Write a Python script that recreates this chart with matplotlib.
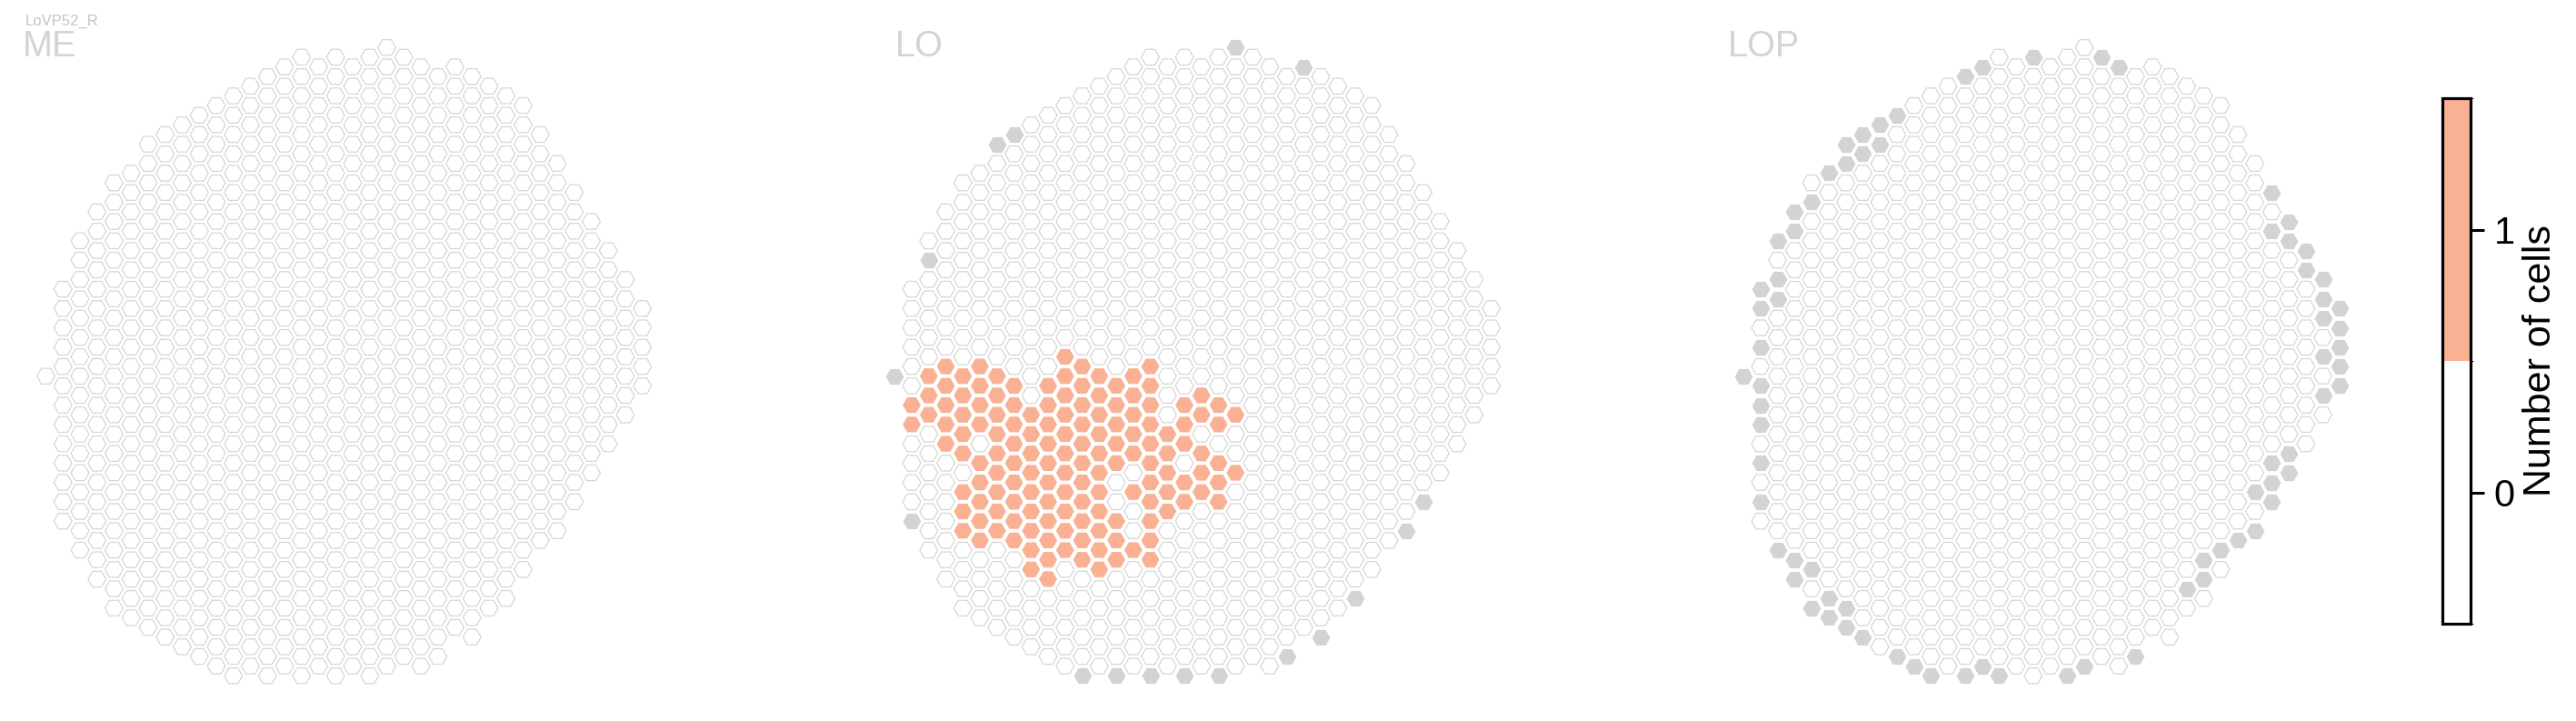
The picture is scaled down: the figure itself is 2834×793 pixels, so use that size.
import matplotlib
matplotlib.use('Agg')
import matplotlib.pyplot as plt
from matplotlib.colors import ListedColormap, BoundaryNorm
from matplotlib.cm import ScalarMappable

plt.rcParams['font.family'] = ['Liberation Sans', 'DejaVu Sans']

## hex grid: first and last half-row of every column ##

col_top = [34, 25, 20, 17, 14, 13, 10, 9, 8, 7, 6, 5, 4, 3, 2, 1, 2, 1, 2, 1,
           0, 1, 2, 3, 2, 3, 4, 5, 6, 9, 12, 15, 18, 21, 24, 27]
col_bottom = [34, 49, 52, 55, 58, 59, 60, 61, 62, 63, 64, 65, 64, 65, 64, 65, 64, 65, 64, 65,
              64, 63, 64, 63, 60, 61, 58, 57, 54, 51, 50, 47, 44, 41, 38, 35]

regions = ['ME', 'LO', 'LOP']
cell_type = 'LoVP52_R'

## columns with 1 cell (LO only) ##
lo_orange = {
    1: [37, 39],
    2: [34, 36, 38],
    3: [33, 35, 37, 39, 41],
    4: [34, 36, 38, 40, 42, 46, 48, 50],
    5: [33, 35, 37, 39, 43, 45, 47, 49, 51],
    6: [34, 36, 38, 40, 42, 44, 46, 48, 50],
    7: [35, 37, 39, 41, 43, 45, 47, 49, 51],
    8: [38, 40, 42, 44, 46, 48, 50, 52, 54],
    9: [35, 37, 39, 41, 43, 45, 47, 49, 51, 53, 55],
    10: [32, 34, 36, 38, 40, 42, 44, 46, 48, 50, 52],
    11: [33, 35, 37, 39, 41, 43, 45, 47, 49, 51, 53],
    12: [34, 36, 38, 40, 42, 44, 46, 48, 50, 52, 54],
    13: [35, 37, 39, 41, 43, 49, 51, 53],
    14: [34, 36, 38, 40, 42, 46, 52],
    15: [33, 35, 37, 39, 41, 43, 45, 47, 49, 51, 53],
    16: [40, 42, 44, 46, 48],
    17: [37, 39, 41, 45, 47],
    18: [36, 38, 42, 44, 46],
    19: [37, 39, 43, 45, 47],
    20: [38, 44],
}

## columns shown in grey ##
me_grey = {}
lo_grey = {0: [34], 1: [49], 2: [22], 6: [10], 7: [9], 11: [65], 13: [65], 15: [65],
           17: [65], 19: [65], 20: [0], 23: [63], 24: [2], 25: [61], 27: [57],
           30: [50], 31: [47]}
lop_grey = {0: [34], 1: [25, 27, 31, 35, 37, 39, 43, 47], 2: [20, 24, 26, 52],
            3: [17, 19, 53, 55], 4: [16, 54, 58], 5: [13, 57, 59], 6: [10, 12, 58, 60],
            7: [9, 11, 61], 8: [8, 10], 9: [7, 63], 10: [64], 11: [65], 13: [3, 65],
            14: [2, 64], 15: [65], 17: [1], 19: [65], 20: [64], 21: [1], 22: [2],
            23: [63], 26: [56], 27: [53, 55], 28: [52], 29: [51], 30: [46, 50],
            31: [15, 19, 43, 45, 47], 32: [18, 20, 42, 44], 33: [21, 23],
            34: [24, 26, 28, 32, 36], 35: [27, 29, 31, 33, 35]}

counts = [{}, lo_orange, {}]
greys = [me_grey, lo_grey, lop_grey]

orange = '#fab092'
cmap = ListedColormap(['white', orange])
norm = BoundaryNorm([-0.5, 0.5, 1.5], 2)

W, H = 2834, 793
fig = plt.figure(figsize=(W / 100, H / 100), dpi=100)

panel_left = [0, 933.8, 1867.6]
title_x = [25, 985, 1901]
col_px, row_px = 18.75, 10.63
x0_px, y0_px = 50.5, 52.3
size = 14.3 ** 2

for i, name in enumerate(regions):
    ax = fig.add_axes([panel_left[i] / W, 0, 800 / W, 1])
    ax.set_xlim(-x0_px / col_px, (800 - x0_px) / col_px)
    ax.set_ylim(-(H - y0_px) / row_px, y0_px / row_px)
    ax.axis('off')

    xs, ys, vals, gx, gy = [], [], [], [], []
    for c in range(len(col_top)):
        for v in range(col_top[c], col_bottom[c] + 1, 2):
            if v in greys[i].get(c, []):
                gx.append(c)
                gy.append(-v)
            else:
                xs.append(c)
                ys.append(-v)
                vals.append(1 if v in counts[i].get(c, []) else 0)

    edges = ['#d6d6d6' if val == 0 else 'none' for val in vals]
    ax.scatter(xs, ys, c=vals, cmap=cmap, norm=norm, marker='H', s=size,
               edgecolors=edges, linewidths=0.9)
    ax.scatter(gx, gy, color='#d3d3d3', marker='H', s=size, linewidths=0)

    fig.text(title_x[i] / W, 1 - 62 / H, name, fontsize=28.5, color='#d3d3d3',
             ha='left', va='baseline')

fig.text(28 / W, 1 - 28 / H, cell_type, fontsize=12, color='#c4c4c4',
         ha='left', va='baseline')

cax = fig.add_axes([2687 / W, (H - 686) / H, 31 / W, 578 / H])
cb = fig.colorbar(ScalarMappable(norm=norm, cmap=cmap), cax=cax, ticks=[0, 1])
cb.outline.set_linewidth(2.3)
cb.outline.set_edgecolor('black')
cax.tick_params(length=10.5, width=2.2, labelsize=30, pad=8)
cb.set_label('Number of cells', fontsize=31, labelpad=6)

fig.savefig('out.png', dpi=100)
